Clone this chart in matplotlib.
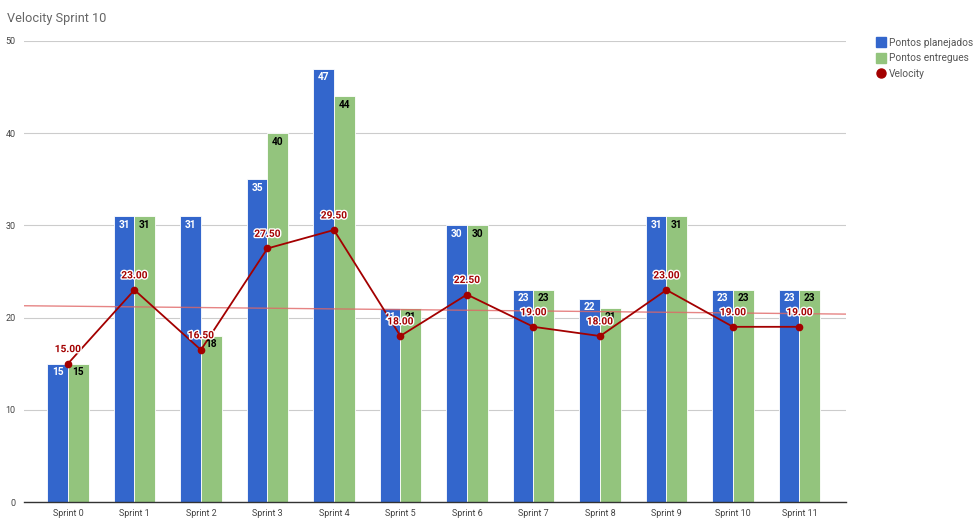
import numpy as np
import matplotlib.pyplot as plt
import matplotlib.patheffects as pe
from matplotlib.lines import Line2D

plt.rcParams['font.family'] = ['Roboto', 'DejaVu Sans']

sprints = ['Sprint 0', 'Sprint 1', 'Sprint 2', 'Sprint 3', 'Sprint 4', 'Sprint 5',
           'Sprint 6', 'Sprint 7', 'Sprint 8', 'Sprint 9', 'Sprint 10', 'Sprint 11']
planejados = [15, 31, 31, 35, 47, 21, 30, 23, 22, 31, 23, 23]
entregues = [15, 31, 18, 40, 44, 21, 30, 23, 21, 31, 23, 23]
velocity = [15.0, 23.0, 16.5, 27.5, 29.5, 18.0, 22.5, 19.0, 18.0, 23.0, 19.0, 19.0]

blue = '#3366cc'
green = '#93c47d'
red = '#a30000'

fig = plt.figure(figsize=(9.8, 5.22), dpi=100)
ax = fig.add_axes([0.0245, 0.0383, 0.8388, 0.8832])

x = np.arange(len(sprints))
w = 0.31
ax.bar(x - w / 2, planejados, w, color=blue, edgecolor='white', linewidth=0.6, zorder=2)
ax.bar(x + w / 2, entregues, w, color=green, edgecolor='white', linewidth=0.6, zorder=2)

# bar labels inside the top of each bar
for i in range(len(sprints)):
    ax.annotate(str(planejados[i]), (x[i] - w / 2, planejados[i]), xytext=(0, -6),
                textcoords='offset points', ha='center', va='center',
                color='white', fontsize=7.3, fontweight='bold', zorder=5)
    ax.annotate(str(entregues[i]), (x[i] + w / 2, entregues[i]), xytext=(0, -6),
                textcoords='offset points', ha='center', va='center',
                color='black', fontsize=7.3, fontweight='bold', zorder=5)

# trendline of velocity
coef = np.polyfit(x, velocity, 1)
xl = np.array([-0.66, 11.7])
ax.plot(xl, np.polyval(coef, xl), color='#e06666', linewidth=1, alpha=0.8, zorder=3)

ax.plot(x, velocity, color=red, linewidth=1.3, marker='o', markersize=4.5, zorder=4)
for i in range(len(sprints)):
    ax.annotate('%.2f' % velocity[i], (x[i], velocity[i]), xytext=(0, 10.5),
                textcoords='offset points', ha='center', va='center',
                color=red, fontsize=7.3, fontweight='bold', zorder=6,
                path_effects=[pe.withStroke(linewidth=2, foreground='white')])

ax.set_xlim(-0.66, 11.7)
ax.set_ylim(0, 50)
ax.set_yticks([0, 10, 20, 30, 40, 50])
ax.set_xticks(x)
ax.set_xticklabels(sprints)
ax.tick_params(axis='both', length=0, labelsize=6.5, labelcolor='#444444')
ax.tick_params(axis='y', pad=6)
ax.tick_params(axis='x', pad=5)
ax.grid(axis='y', color='#cccccc', linewidth=0.8, zorder=0)
ax.set_axisbelow(True)
for s in ['top', 'right', 'left']:
    ax.spines[s].set_visible(False)
ax.spines['bottom'].set_color('#333333')
ax.spines['bottom'].set_linewidth(1)

fig.text(0.007, 0.977, 'Velocity Sprint 10', fontsize=9.2, color='#666666', va='top', ha='left')

handles = [Line2D([], [], marker='s', linestyle='', color=blue, markersize=6.5),
           Line2D([], [], marker='s', linestyle='', color=green, markersize=6.5),
           Line2D([], [], marker='o', linestyle='', color=red, markersize=6.5)]
fig.legend(handles, ['Pontos planejados', 'Pontos entregues', 'Velocity'],
           loc='upper left', bbox_to_anchor=(0.884, 0.945), frameon=False,
           fontsize=7.3, labelcolor='#555555', handletextpad=0.3, labelspacing=0.55,
           handlelength=1.0)

plt.savefig('out.png', dpi=100)
